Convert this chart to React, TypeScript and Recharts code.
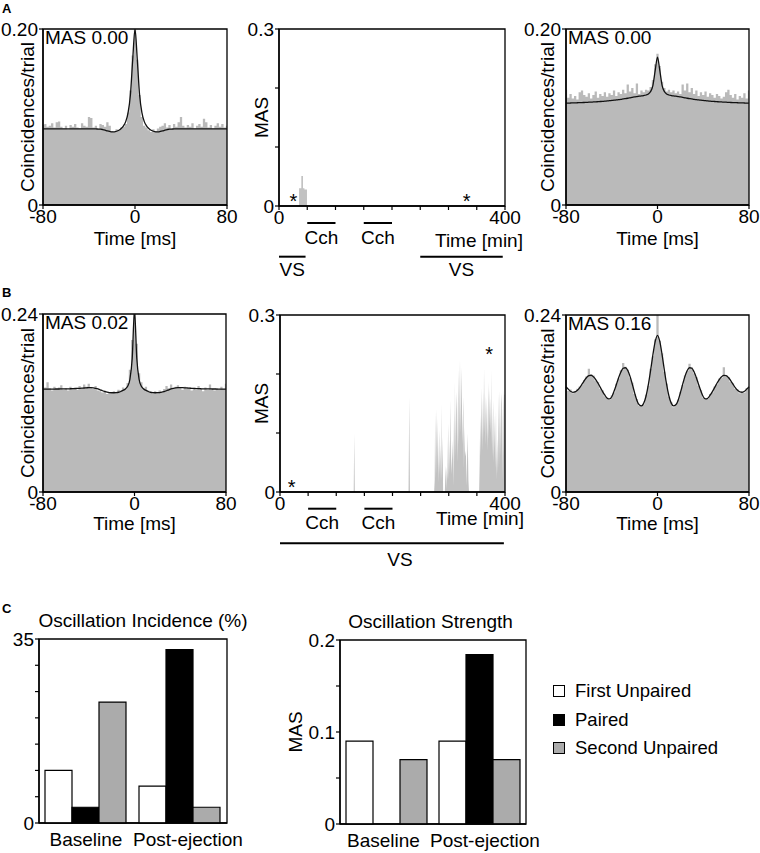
import React from 'react';
import {
  ComposedChart,
  BarChart,
  Area,
  Line,
  Bar,
  XAxis,
  YAxis,
  Legend,
  ReferenceArea,
  ReferenceLine,
  ReferenceDot,
} from 'recharts';

const FONT = "'Liberation Sans', Arial, Helvetica, sans-serif";
const FS = 19;
const INK = '#000';
const CCG_GRAY = '#bababa';
const MAS_GRAY = '#c2c2c2';
const BAR_GRAY = '#ababab';

const AXIS = { stroke: INK, strokeWidth: 1.4 };
const TICK_LINE = { stroke: INK, strokeWidth: 1.2 };
const TICK_TEXT = { fill: INK, fontSize: FS };

// ---- cross-correlograms, 2 ms bins from -80 to 80 ms
const LAGS = Array.from({ length: 81 }, (_, i) => -80 + 2 * i);
const LAG_TICKS = [-80, 0, 80];

// A, left
const A1_HIST = [
  0.091, 0.092, 0.089, 0.09, 0.093, 0.088, 0.094, 0.095, 0.089, 0.087,
  0.09, 0.086, 0.091, 0.089, 0.092, 0.088, 0.087, 0.093, 0.09, 0.089,
  0.1, 0.099, 0.088, 0.09, 0.087, 0.092, 0.091, 0.089, 0.094, 0.09,
  0.084, 0.083, 0.086, 0.085, 0.088, 0.089, 0.092, 0.105, 0.13, 0.17,
  0.215,
  0.165, 0.125, 0.1, 0.09, 0.088, 0.085, 0.083, 0.086, 0.084, 0.087,
  0.089, 0.09, 0.093, 0.088, 0.091, 0.087, 0.092, 0.089, 0.094, 0.1,
  0.09, 0.088, 0.091, 0.089, 0.093, 0.087, 0.09, 0.092, 0.089, 0.098,
  0.094, 0.088, 0.091, 0.087, 0.09, 0.093, 0.089, 0.092, 0.088, 0.09,
];
const A1_FIT = [
  0.0865, 0.0865, 0.0865, 0.0865, 0.0865, 0.0865, 0.0865, 0.0865, 0.0865, 0.0865,
  0.0865, 0.0865, 0.0865, 0.0865, 0.0865, 0.0865, 0.0865, 0.0865, 0.0865, 0.0865,
  0.0865, 0.0865, 0.0865, 0.0864, 0.0863, 0.0862, 0.0857, 0.085, 0.0842, 0.0836,
  0.0832, 0.0832, 0.0838, 0.085, 0.087, 0.09, 0.095, 0.105, 0.125, 0.165,
  0.2,
  0.165, 0.125, 0.105, 0.095, 0.09, 0.087, 0.085, 0.0838, 0.0832, 0.0832,
  0.0836, 0.0842, 0.085, 0.0857, 0.0862, 0.0863, 0.0864, 0.0865, 0.0865, 0.0865,
  0.0865, 0.0865, 0.0865, 0.0865, 0.0865, 0.0865, 0.0865, 0.0865, 0.0865, 0.0865,
  0.0865, 0.0865, 0.0865, 0.0865, 0.0865, 0.0865, 0.0865, 0.0865, 0.0865, 0.0865,
];

// A, right
const A2_HIST = [
  0.131, 0.122, 0.126, 0.121, 0.124, 0.12, 0.128, 0.13, 0.125, 0.123,
  0.127, 0.121, 0.125, 0.129, 0.122, 0.126, 0.124, 0.128, 0.123, 0.127,
  0.125, 0.13, 0.124, 0.128, 0.126, 0.131, 0.127, 0.137, 0.129, 0.133,
  0.127, 0.138, 0.126, 0.13, 0.128, 0.131, 0.13, 0.134, 0.142, 0.16,
  0.172,
  0.158, 0.14, 0.133, 0.129, 0.131, 0.128, 0.13, 0.127, 0.129, 0.126,
  0.137, 0.13, 0.138, 0.128, 0.133, 0.126, 0.13, 0.124, 0.128, 0.125,
  0.129, 0.123, 0.127, 0.125, 0.122, 0.126, 0.124, 0.121, 0.123, 0.128,
  0.131, 0.125, 0.122, 0.126, 0.12, 0.124, 0.122, 0.127, 0.121, 0.13,
];
const A2_FIT = [
  0.1158, 0.1158, 0.1159, 0.116, 0.1161, 0.1162, 0.1163, 0.1164, 0.1165, 0.1166,
  0.1168, 0.1169, 0.1171, 0.1172, 0.1174, 0.1176, 0.1178, 0.118, 0.1183, 0.1185,
  0.1188, 0.1191, 0.1194, 0.1197, 0.12, 0.1205, 0.1209, 0.1213, 0.1218, 0.1223,
  0.1228, 0.1232, 0.1236, 0.124, 0.1244, 0.125, 0.1262, 0.129, 0.136, 0.153,
  0.168,
  0.153, 0.136, 0.129, 0.1262, 0.125, 0.1244, 0.124, 0.1236, 0.1232, 0.1228,
  0.1223, 0.1218, 0.1213, 0.1209, 0.1205, 0.12, 0.1197, 0.1194, 0.1191, 0.1188,
  0.1185, 0.1183, 0.118, 0.1178, 0.1176, 0.1174, 0.1172, 0.1171, 0.1169, 0.1168,
  0.1166, 0.1165, 0.1164, 0.1163, 0.1162, 0.1161, 0.116, 0.1159, 0.1158, 0.1158,
];

// B, left
const B1_HIST = [
  0.138, 0.141, 0.148, 0.14, 0.137, 0.142, 0.139, 0.141, 0.144, 0.138,
  0.14, 0.137, 0.142, 0.139, 0.141, 0.138, 0.143, 0.14, 0.145, 0.142,
  0.146, 0.141, 0.139, 0.143, 0.137, 0.136, 0.134, 0.137, 0.132, 0.135,
  0.133, 0.136, 0.134, 0.138, 0.137, 0.141, 0.139, 0.147, 0.165, 0.205,
  0.26,
  0.2, 0.16, 0.148, 0.14, 0.142, 0.137, 0.135, 0.133, 0.136, 0.132,
  0.137, 0.134, 0.139, 0.143, 0.14, 0.145, 0.139, 0.142, 0.144, 0.141,
  0.138, 0.142, 0.139, 0.141, 0.137, 0.14, 0.138, 0.143, 0.139, 0.136,
  0.141, 0.138, 0.145, 0.139, 0.137, 0.14, 0.138, 0.142, 0.139, 0.146,
];
const B1_FIT = [
  0.1386, 0.1386, 0.1387, 0.1387, 0.1388, 0.1388, 0.1389, 0.1389, 0.139, 0.139,
  0.1391, 0.1391, 0.1392, 0.1393, 0.1394, 0.1396, 0.1398, 0.14, 0.1402, 0.1405,
  0.1407, 0.1407, 0.1404, 0.1398, 0.139, 0.1378, 0.1365, 0.1355, 0.1346, 0.134,
  0.1338, 0.1338, 0.134, 0.1345, 0.1355, 0.137, 0.139, 0.1425, 0.152, 0.18,
  0.245,
  0.18, 0.152, 0.1425, 0.139, 0.137, 0.1355, 0.1345, 0.134, 0.1338, 0.1338,
  0.134, 0.1346, 0.1355, 0.1365, 0.1378, 0.139, 0.1398, 0.1404, 0.1407, 0.1408,
  0.1407, 0.1405, 0.1402, 0.14, 0.1398, 0.1396, 0.1394, 0.1393, 0.1392, 0.1391,
  0.1391, 0.139, 0.139, 0.1389, 0.1389, 0.1388, 0.1388, 0.1387, 0.1387, 0.1386,
];

// B, right
const B2_HIST = [
  0.14, 0.137, 0.139, 0.134, 0.137, 0.14, 0.143, 0.145, 0.152, 0.157,
  0.167, 0.16, 0.158, 0.151, 0.149, 0.14, 0.138, 0.13, 0.128, 0.125,
  0.131, 0.135, 0.147, 0.154, 0.165, 0.175, 0.17, 0.166, 0.155, 0.148,
  0.133, 0.126, 0.117, 0.118, 0.119, 0.132, 0.144, 0.167, 0.184, 0.207,
  0.245,
  0.205, 0.188, 0.163, 0.147, 0.129, 0.122, 0.115, 0.119, 0.125, 0.136,
  0.145, 0.158, 0.164, 0.174, 0.169, 0.161, 0.156, 0.144, 0.138, 0.128,
  0.127, 0.126, 0.133, 0.135, 0.143, 0.146, 0.154, 0.155, 0.169, 0.157,
  0.156, 0.149, 0.147, 0.14, 0.139, 0.134, 0.137, 0.135, 0.141, 0.143,
];
const B2_FIT = [
  0.1426, 0.1395, 0.1365, 0.1352, 0.1358, 0.138, 0.1415, 0.1462, 0.151, 0.1552,
  0.1578, 0.1582, 0.1562, 0.1525, 0.1475, 0.1418, 0.1362, 0.1312, 0.1272, 0.1262,
  0.1292, 0.1365, 0.1455, 0.155, 0.1628, 0.1678, 0.1685, 0.1648, 0.1568, 0.146,
  0.1345, 0.1242, 0.1182, 0.1168, 0.1205, 0.1302, 0.1455, 0.1652, 0.1862, 0.2042,
  0.2125,
  0.2042, 0.1862, 0.1652, 0.1455, 0.1302, 0.1205, 0.1168, 0.1182, 0.1242, 0.1345,
  0.146, 0.1568, 0.1648, 0.1685, 0.1678, 0.1628, 0.155, 0.1455, 0.1365, 0.1292,
  0.1262, 0.1272, 0.1312, 0.1362, 0.1418, 0.1475, 0.1525, 0.1562, 0.1582, 0.1578,
  0.1552, 0.151, 0.1462, 0.1415, 0.138, 0.1358, 0.1352, 0.1365, 0.1395, 0.1426,
];

// ---- MAS over recording time [min, MAS]
const TIME_TICKS = [0, 50, 100, 150, 200, 250, 300, 350, 400];
const MAS_TICKS = [0, 0.1, 0.2, 0.3];

const MAS_A: [number, number][] = [
  [0, 0], [35.5, 0.03], [39.5, 0.051], [42.5, 0.03], [45, 0.028], [49.5, 0], [400, 0],
];
const MAS_B: [number, number][] = [
  [0, 0], [131, 0], [132, 0.099], [133, 0],
  [228.5, 0], [229.8, 0.161], [231, 0],
  [274, 0], [275, 0.02], [275.8, 0.135], [276.8, 0.02], [278, 0.142], [279, 0.03],
  [280.3, 0.125], [281.3, 0.015], [283, 0.105], [284, 0.03], [285, 0.08], [285.8, 0.02],
  [286.5, 0.15], [287.5, 0.02], [289, 0.094], [290, 0],
  [293, 0], [294.5, 0.045], [295.5, 0.005], [296.5, 0.043], [297.5, 0.02], [299, 0.116],
  [300, 0.02], [301, 0.09], [302, 0.03], [303.4, 0.156], [304.5, 0.03], [306, 0.06],
  [307, 0.088], [308, 0.01], [309.5, 0.14], [310.3, 0.05], [311, 0.187], [312, 0.06],
  [313, 0.14], [314, 0.17], [315, 0.05], [316, 0.12], [317, 0.207], [318, 0.08],
  [319, 0.15], [320, 0.224], [321, 0.1], [322, 0.16], [323, 0.212], [324, 0.08],
  [325, 0.12], [326, 0.162], [327, 0.04], [328, 0.11], [329, 0.06], [330.5, 0.07],
  [331.5, 0.01], [333.6, 0.099], [335, 0.02], [336, 0],
  [354, 0], [355, 0.05], [356, 0.13], [357, 0.06], [358.5, 0.178], [359.5, 0.07],
  [361, 0.17], [362, 0.09], [362.7, 0.21], [364, 0.1], [365, 0.165], [366, 0.08],
  [367.5, 0.16], [368.5, 0.07], [370.4, 0.187], [371.3, 0.09], [372.5, 0.175], [373.5, 0.1],
  [375, 0.16], [375.8, 0.08], [376.5, 0.207], [377.5, 0.06], [379, 0.156], [380, 0.05],
  [381.5, 0.13], [382.5, 0.04], [384, 0.139], [385, 0.02], [386, 0.09], [387, 0.03],
  [388.1, 0.167], [389.3, 0.04], [391, 0.173], [392, 0.06], [393, 0.15], [394.1, 0.168],
  [395, 0.02], [396, 0.12], [397, 0.173], [398, 0.06], [399, 0.165], [400, 0.165],
];
const STARS_A: [number, number][] = [[25.3, 0.0136], [332, 0.0136]];
const STARS_B: [number, number][] = [[20.7, 0.0136], [371.6, 0.2385]];

// carbachol and visual stimulation periods [start, end] in min
const CCH_PERIODS: [number, number][] = [[50, 100], [150, 200]];
const VS_A: [number, number][] = [[0, 47], [250, 396]];
const VS_B: [number, number][] = [[0, 398]];

// ---- panel C
const GROUPS = ['Baseline', 'Post-ejection'];
const INC_FIRST = [10, 7];
const INC_PAIRED = [3, 33];
const INC_SECOND = [23, 3];
const STR_FIRST = [0.09, 0.09];
const STR_PAIRED = [0, 0.184];
const STR_SECOND = [0.07, 0.07];
const INC_TICKS = [0, 5, 10, 15, 20, 25, 30, 35];
const STR_TICKS = [0, 0.05, 0.1, 0.15, 0.2];
const SERIES = [
  { key: 'first', name: 'First Unpaired', fill: '#ffffff' },
  { key: 'paired', name: 'Paired', fill: '#000000' },
  { key: 'second', name: 'Second Unpaired', fill: BAR_GRAY },
];

type Box = [number, number, number, number];

// place a chart so that its plot area lands on box (page pixels)
function frame(box: Box, yw: number, xh: number, padR = 20) {
  const [x0, y0, x1, y1] = box;
  const padL = Math.max(50, yw + 4);
  const padT = 30;
  return {
    style: { position: 'absolute' as const, left: x0 - padL, top: y0 - padT },
    left: x0 - padL,
    top: y0 - padT,
    width: x1 - x0 + padL + padR,
    height: y1 - y0 + padT + xh,
    margin: { top: padT, right: padR, bottom: 0, left: padL - yw },
  };
}

function Star(p: any) {
  return (
    <text x={p.cx} y={p.cy} dy="0.5em" textAnchor="middle" fontSize={20} fill={INK}>
      *
    </text>
  );
}

function SegText({ viewBox, text, gap = 6, dx = 0 }: any) {
  const x = viewBox.x + viewBox.width / 2 + dx;
  const y = viewBox.y + gap;
  return (
    <text x={x} y={y} dy="0.72em" textAnchor="middle" fontSize={FS} fill={INK}>
      {text}
    </text>
  );
}

function TimeTitle({ viewBox, dx, dy }: any) {
  return (
    <text x={viewBox.x + dx} y={viewBox.y + dy} dominantBaseline="central" fontSize={FS} fill={INK}>
      Time [min]
    </text>
  );
}

function PanelTitle({ viewBox, text, dx = 0 }: any) {
  return (
    <text x={viewBox.x + viewBox.width / 2 + dx} y={viewBox.y - 12} textAnchor="middle" fontSize={FS} fill={INK}>
      {text}
    </text>
  );
}

// category label, nudged sideways so the two words do not run together
function GroupTick({ x, y, payload, index, shifts }: any) {
  return (
    <text x={x + (shifts[index] || 0)} y={y} dy="0.71em" textAnchor="middle" fontSize={FS} fill={INK}>
      {payload.value}
    </text>
  );
}

function Correlogram({ box, hist, fit, yMax, mas, yTitleX, xTitleY }: any) {
  const rows = LAGS.map((t, i) => ({ t, h: hist[i], f: fit[i] }));
  const yw = 2 * (box[0] - yTitleX);
  const xh = 2 * (xTitleY - box[3]);
  const f = frame(box, yw, xh);
  return (
    <div style={f.style}>
      <ComposedChart width={f.width} height={f.height} data={rows} margin={f.margin}>
        <Area type="step" dataKey="h" fill={CCG_GRAY} fillOpacity={1} stroke="none" isAnimationActive={false} />
        <Line type="monotone" dataKey="f" stroke="#111" strokeWidth={1.3} dot={false} isAnimationActive={false} />
        <XAxis
          type="number"
          dataKey="t"
          domain={[-80, 80]}
          ticks={LAG_TICKS}
          interval={0}
          height={xh}
          axisLine={AXIS}
          tickLine={TICK_LINE}
          tickSize={4}
          tickMargin={1}
          tick={TICK_TEXT}
          label={{ value: 'Time [ms]', position: 'center', fill: INK, fontSize: FS }}
        />
        <YAxis
          type="number"
          domain={[0, yMax]}
          allowDataOverflow
          ticks={[0, yMax]}
          interval={0}
          width={yw}
          axisLine={AXIS}
          tickLine={TICK_LINE}
          tickSize={4}
          tickMargin={1}
          tick={TICK_TEXT}
          tickFormatter={(v: number) => (v === 0 ? '0' : v.toFixed(2))}
          label={{ value: 'Coincidences/trial', angle: -90, position: 'center', fill: INK, fontSize: FS }}
        />
        <ReferenceArea
          x1={-80}
          x2={80}
          y1={0}
          y2={yMax}
          fill="none"
          fillOpacity={0}
          stroke={INK}
          strokeWidth={1.3}
          ifOverflow="visible"
          label={{ value: mas, position: 'insideTopLeft', offset: 2, fill: INK, fontSize: FS }}
        />
      </ComposedChart>
    </div>
  );
}

function MasTrace({ box, trace, curve, stars, vs, cchY, vsY, cchGap, vsGap, vsDx, titleDy }: any) {
  const rows = trace.map(([t, v]: [number, number]) => ({ t, v }));
  const yw = 2 * (box[0] - 261);
  const f = frame(box, yw, 82);
  return (
    <div style={f.style}>
      <ComposedChart width={f.width} height={f.height} data={rows} margin={f.margin}>
        <Area type={curve} dataKey="v" fill={MAS_GRAY} fillOpacity={1} stroke="none" isAnimationActive={false} />
        <XAxis
          type="number"
          dataKey="t"
          domain={[0, 400]}
          ticks={TIME_TICKS}
          interval={0}
          height={82}
          axisLine={AXIS}
          tickLine={TICK_LINE}
          tickSize={4}
          tickMargin={1}
          tick={TICK_TEXT}
          tickFormatter={(v: number) => (v === 0 || v === 400 ? String(v) : '')}
          label={<TimeTitle dx={156} dy={titleDy} />}
        />
        <YAxis
          type="number"
          domain={[0, 0.3]}
          ticks={MAS_TICKS}
          interval={0}
          width={yw}
          axisLine={AXIS}
          tickLine={TICK_LINE}
          tickSize={4}
          tickMargin={1}
          tick={TICK_TEXT}
          tickFormatter={(v: number) => (v === 0 ? '0' : v === 0.3 ? '0.3' : '')}
          label={{ value: 'MAS', angle: -90, position: 'center', fill: INK, fontSize: FS }}
        />
        <ReferenceArea x1={0} x2={400} y1={0} y2={0.3} fill="none" fillOpacity={0} stroke={INK} strokeWidth={1.3} ifOverflow="visible" />
        {stars.map(([t, v]: [number, number]) => (
          <ReferenceDot key={t} x={t} y={v} r={0} shape={<Star />} ifOverflow="visible" />
        ))}
        {CCH_PERIODS.map(([a, b]) => (
          <ReferenceLine
            key={'c' + a}
            segment={[{ x: a, y: cchY }, { x: b, y: cchY }]}
            stroke={INK}
            strokeWidth={2}
            ifOverflow="visible"
            label={<SegText text="Cch" gap={cchGap} />}
          />
        ))}
        {vs.map(([a, b]: [number, number]) => (
          <ReferenceLine
            key={'v' + a}
            segment={[{ x: a, y: vsY }, { x: b, y: vsY }]}
            stroke={INK}
            strokeWidth={2}
            ifOverflow="visible"
            label={<SegText text="VS" gap={vsGap} dx={vsDx} />}
          />
        ))}
      </ComposedChart>
    </div>
  );
}

function KeyList() {
  return (
    <div style={{ fontFamily: FONT }}>
      {SERIES.map((s) => (
        <div key={s.key} style={{ display: 'flex', alignItems: 'center', height: 28.5, whiteSpace: 'nowrap' }}>
          <span style={{ display: 'inline-block', width: 10, height: 10, border: '1.2px solid #000', background: s.fill, marginRight: 10 }} />
          <span style={{ fontSize: 18.5, color: INK }}>{s.name}</span>
        </div>
      ))}
    </div>
  );
}

function Bars({ box, first, paired, second, yMax, ticks, labelled, yTitle, yTitleX, title, titleDx, shifts, legend }: any) {
  const rows = GROUPS.map((g, i) => ({ g, first: first[i], paired: paired[i], second: second[i] }));
  const yw = yTitleX == null ? 36 : 2 * (box[0] - yTitleX);
  const f = frame(box, yw, 30);
  return (
    <div style={f.style}>
      <BarChart width={f.width} height={f.height} data={rows} margin={f.margin} barCategoryGap={6} barGap={0}>
        {SERIES.map((s) => (
          <Bar key={s.key} dataKey={s.key} name={s.name} fill={s.fill} stroke={INK} strokeWidth={1.2} isAnimationActive={false} />
        ))}
        <XAxis
          dataKey="g"
          type="category"
          interval={0}
          height={30}
          axisLine={AXIS}
          tickLine={false}
          tickSize={0}
          tickMargin={10}
          tick={<GroupTick shifts={shifts} />}
        />
        <YAxis
          type="number"
          domain={[0, yMax]}
          ticks={ticks}
          interval={0}
          width={yw}
          axisLine={AXIS}
          tickLine={TICK_LINE}
          tickSize={4}
          tickMargin={1}
          tick={TICK_TEXT}
          tickFormatter={(v: number) => (labelled.includes(v) ? String(v) : '')}
          label={yTitle ? { value: yTitle, angle: -90, position: 'center', fill: INK, fontSize: FS } : undefined}
        />
        <ReferenceArea
          x1={GROUPS[0]}
          x2={GROUPS[1]}
          y1={0}
          y2={yMax}
          fill="none"
          fillOpacity={0}
          stroke={INK}
          strokeWidth={1.3}
          ifOverflow="visible"
          label={<PanelTitle text={title} dx={titleDx} />}
        />
        {legend && (
          <Legend
            layout="vertical"
            align="center"
            verticalAlign="middle"
            wrapperStyle={{ left: 553 - f.left, top: 676.75 - f.top, width: 'auto' }}
            content={() => <KeyList />}
          />
        )}
      </BarChart>
    </div>
  );
}

const letter = (top: number): React.CSSProperties => ({
  position: 'absolute',
  left: 2,
  top,
  fontWeight: 'bold',
  fontSize: 13,
  lineHeight: 'normal',
});

export default function App() {
  return (
    <div
      style={{
        position: 'absolute',
        left: 0,
        top: 0,
        width: 760,
        height: 853,
        overflow: 'hidden',
        background: '#fff',
        fontFamily: FONT,
        fontSize: FS,
        color: INK,
      }}
    >
      <div style={letter(0.5)}>A</div>
      <div style={letter(284.5)}>B</div>
      <div style={letter(600.5)}>C</div>

      <Correlogram box={[43, 29, 227, 205]} hist={A1_HIST} fit={A1_FIT} yMax={0.2} mas="MAS 0.00" yTitleX={27.5} xTitleY={238} />
      <MasTrace
        box={[279, 29, 505, 206]}
        trace={MAS_A}
        curve="stepAfter"
        stars={STARS_A}
        vs={VS_A}
        cchY={-0.0288}
        vsY={-0.0859}
        cchGap={7}
        vsGap={5.3}
        vsDx={0}
        titleDy={34}
      />
      <Correlogram box={[566, 29, 749, 205]} hist={A2_HIST} fit={A2_FIT} yMax={0.2} mas="MAS 0.00" yTitleX={547.5} xTitleY={238} />

      <Correlogram box={[43, 314, 226, 492]} hist={B1_HIST} fit={B1_FIT} yMax={0.24} mas="MAS 0.02" yTitleX={27.5} xTitleY={523.5} />
      <MasTrace
        box={[280, 315, 505, 492]}
        trace={MAS_B}
        curve="linear"
        stars={STARS_B}
        vs={VS_B}
        cchY={-0.0283}
        vsY={-0.0869}
        cchGap={6.3}
        vsGap={8.7}
        vsDx={8}
        titleDy={26.5}
      />
      <Correlogram box={[566, 315, 749, 492]} hist={B2_HIST} fit={B2_FIT} yMax={0.24} mas="MAS 0.16" yTitleX={547.5} xTitleY={523.5} />

      <Bars
        box={[39, 639, 227, 823]}
        first={INC_FIRST}
        paired={INC_PAIRED}
        second={INC_SECOND}
        yMax={35}
        ticks={INC_TICKS}
        labelled={[0, 35]}
        yTitle={null}
        yTitleX={null}
        title="Oscillation Incidence (%)"
        titleDx={10}
        shifts={[0, 8]}
        legend={false}
      />
      <Bars
        box={[340, 640, 526, 824]}
        first={STR_FIRST}
        paired={STR_PAIRED}
        second={STR_SECOND}
        yMax={0.2}
        ticks={STR_TICKS}
        labelled={[0, 0.1, 0.2]}
        yTitle="MAS"
        yTitleX={295.5}
        title="Oscillation Strength"
        titleDx={-2.5}
        shifts={[-3, 5.5]}
        legend
      />
    </div>
  );
}
